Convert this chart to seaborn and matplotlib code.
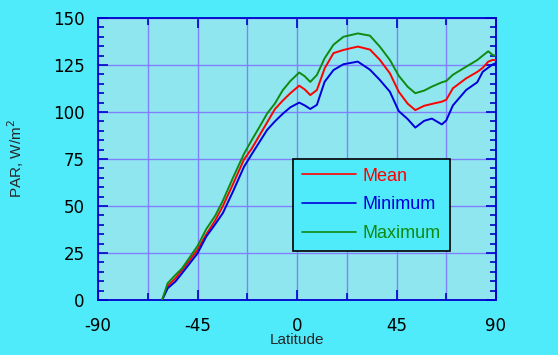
import matplotlib
matplotlib.use('Agg')

import numpy as np
import pandas as pd
import matplotlib.pyplot as plt
from matplotlib.ticker import MultipleLocator
import seaborn as sns

# values
latitude = [-61, -58.5, -55, -52, -45, -41, -37, -33.5, -29, -24,
            -20.5, -17, -13.5, -10, -6.5, -3, 1, 3.5, 6, 9,
            12.5, 16.5, 21, 27.5, 33, 37.5, 42, 46, 50, 53.5,
            57.5, 61, 65.5, 67.5, 70.5, 76.5, 81.5, 84, 86.5, 88.5, 90]

par_mean = [0, 7.4, 11.5, 15.8, 26.7, 35, 42.3, 50, 61.5, 74.7,
            80.5, 87.5, 94.5, 101.5, 106, 110, 114, 112, 109, 111.7,
            123.2, 131.3, 133, 134.8, 133.2, 127.7, 120.6, 110.8, 104.5, 101,
            103.3, 104.3, 105.5, 106.5, 112.6, 117.9, 121.3, 123.5, 126.8, 127.7, 127.5]

par_min = [0, 6.2, 9.8, 14.2, 24.8, 33.8, 40.3, 46.3, 57.6, 70.8,
           77.5, 84, 90.5, 95, 99, 102.5, 105, 103.5, 101.6, 103.8,
           116.1, 122.3, 125.4, 126.8, 122.5, 117, 110.8, 100.5, 96.3, 91.7,
           95.3, 96.5, 93.4, 95.5, 103.5, 111.7, 115.8, 121.4, 123.6, 125.3, 126]

par_max = [0, 8.9, 13.3, 16.8, 28.7, 37.8, 44.8, 52.9, 64.9, 77.7,
           85, 92, 99.2, 104.5, 111.5, 116.5, 121, 119, 116, 119.7,
           128.6, 135.8, 140, 141.8, 140.6, 134.7, 127.7, 119.3, 113.5, 110,
           111.4, 113.5, 115.8, 116.5, 119.8, 124.1, 127.6, 130, 132.3, 130.3, 130]

series_names = ['Mean', 'Minimum', 'Maximum']
series_colors = ['#ff0000', '#0000dd', '#108a10']

df = pd.DataFrame({'lat': latitude, 'Mean': par_mean,
                   'Minimum': par_min, 'Maximum': par_max})
long_df = df.melt(id_vars='lat', var_name='series', value_name='par')

sns.set_style('ticks')
plt.rcParams['font.family'] = ['DejaVu Sans']
plt.rcParams['axes.unicode_minus'] = False

outer_bg = '#50ebfa'
plot_bg = '#8fe6ee'
axis_col = '#0000cc'

fig = plt.figure(figsize=(5.58, 3.55), dpi=100, facecolor=outer_bg)
ax = fig.add_axes([98 / 558, 55 / 355, 398 / 558, 282 / 355])
ax.set_facecolor(plot_bg)

sns.lineplot(data=long_df, x='lat', y='par', hue='series',
             hue_order=series_names, palette=series_colors,
             linewidth=1.4, ax=ax, legend=False, zorder=3)

ax.set_xlim(-90, 90)
ax.set_ylim(0, 150)
ax.xaxis.set_major_locator(MultipleLocator(45))
ax.xaxis.set_minor_locator(MultipleLocator(22.5))
ax.yaxis.set_major_locator(MultipleLocator(25))
ax.yaxis.set_minor_locator(MultipleLocator(5))

ax.grid(which='major', axis='y', color='#8080ff', linewidth=1, zorder=1)
ax.grid(which='both', axis='x', color='#8080ff', linewidth=1, zorder=1)

for sp in ax.spines.values():
    sp.set_color(axis_col)
    sp.set_linewidth(1.3)
    sp.set_visible(True)

ax.tick_params(which='both', direction='in', color=axis_col, width=1.2,
               top=True, right=True, labelsize=12, labelcolor='black')
ax.tick_params(axis='x', which='major', length=7, pad=12)
ax.tick_params(axis='x', which='minor', length=5)
ax.tick_params(axis='y', which='major', length=7, pad=9.5)
ax.tick_params(axis='y', which='minor', length=4)

lab_font = {'family': 'Liberation Sans', 'size': 11}
ax.set_xlabel('Latitude', fontdict=lab_font)
ax.set_ylabel('PAR, W/m$^2$', fontdict=lab_font)
ax.xaxis.set_label_coords(0.5, -0.118)
ax.yaxis.set_label_coords(-0.18, 0.5)

# legend, built from the drawn lines
handles = ax.get_lines()[:3]
leg = ax.legend(handles, series_names, loc='upper left',
                bbox_to_anchor=(0.467, 0.533),
                prop={'family': 'Liberation Sans', 'size': 13},
                handlelength=3.0, handletextpad=0.35, labelspacing=0.64,
                borderpad=0.5, borderaxespad=0.5, fancybox=False,
                framealpha=1, facecolor=outer_bg, edgecolor='black')
leg.get_frame().set_linewidth(1.2)
for txt, col in zip(leg.get_texts(), series_colors):
    txt.set_color(col)
for h in leg.get_lines():
    h.set_linewidth(1.2)

fig.savefig('out.png', dpi=100, facecolor=outer_bg)
